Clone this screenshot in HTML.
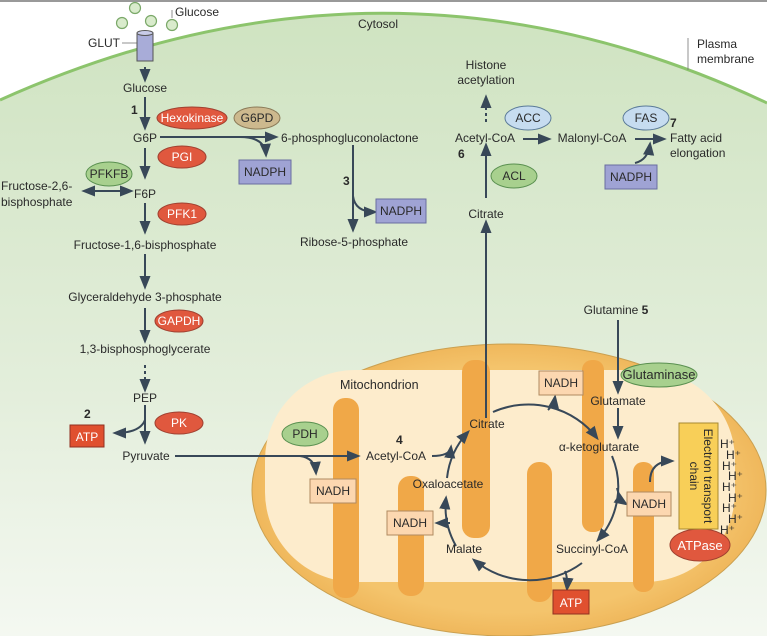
<!DOCTYPE html>
<html><head><meta charset="utf-8"><style>
html,body{margin:0;padding:0;background:#fff}
svg{display:block}
text{font-family:"Liberation Sans",sans-serif;font-size:12px;fill:#2a2a2a}
.b{font-weight:bold}
</style></head><body>
<svg width="767" height="636" viewBox="0 0 767 636" xmlns="http://www.w3.org/2000/svg">
<defs>
<linearGradient id="cg" x1="0" y1="0" x2="0" y2="1">
<stop offset="0" stop-color="#cfe3c1"/><stop offset="0.6" stop-color="#e3eedb"/><stop offset="1" stop-color="#f4f8f1"/></linearGradient>
<radialGradient id="mg" cx="0.5" cy="0.5" r="0.6"><stop offset="0.7" stop-color="#f4c46c"/><stop offset="1" stop-color="#eaa848"/></radialGradient>
<marker id="a" viewBox="0 0 10 10" refX="8" refY="5" markerWidth="7" markerHeight="7" orient="auto-start-reverse"><path d="M0,1 L10,5 L0,9 z" fill="#384858"/></marker>
</defs>
<rect x="0" y="0" width="767" height="2" fill="#999"/>
<path d="M0,100 Q390,-75 767,103 L767,636 L0,636 z" fill="url(#cg)"/>
<path d="M0,100 Q390,-75 767,103" fill="none" stroke="#8cc46c" stroke-width="3"/>
<ellipse cx="509" cy="490" rx="257" ry="146" fill="url(#mg)" stroke="#caa050" stroke-width="1"/>
<rect x="265" y="370" width="470" height="212" rx="90" ry="90" fill="#fdeccc"/>
<g fill="#f0a848">
<rect x="333" y="398" width="26" height="200" rx="12"/>
<rect x="398" y="476" width="26" height="120" rx="12"/>
<rect x="527" y="462" width="25" height="140" rx="12"/>
<rect x="633" y="462" width="21" height="130" rx="10"/>
<rect x="462" y="360" width="28" height="178" rx="12"/>
<rect x="582" y="360" width="22" height="172" rx="10"/>
</g>
<g fill="#d9ebcc" stroke="#7aa868" stroke-width="1.2">
<circle cx="135" cy="8" r="5.5"/><circle cx="122" cy="23" r="5.5"/><circle cx="151" cy="21" r="5.5"/><circle cx="172" cy="25" r="5.5"/></g>
<path d="M172,18 V10" stroke="#777" stroke-width="0.8"/>
<text x="175" y="16">Glucose</text>
<text x="88" y="47">GLUT</text><path d="M122,43 H137" stroke="#777" stroke-width="0.8"/>
<rect x="137" y="33" width="16" height="28" fill="#a8acd8" stroke="#555"/><ellipse cx="145" cy="33" rx="8" ry="2.5" fill="#c8cbe8" stroke="#555"/>
<text x="358" y="28">Cytosol</text>
<path d="M688,38 V70" stroke="#777" stroke-width="0.8"/>
<text x="697" y="48">Plasma</text><text x="697" y="63">membrane</text>
<g stroke="#384858" stroke-width="2" fill="none" marker-end="url(#a)">
<path d="M145,67 V80"/>
<path d="M145,97 V128"/>
<path d="M145,148 V177"/>
<path d="M145,203 V232"/>
<path d="M145,254 V287"/>
<path d="M145,308 V341"/>
<path d="M145,365 V390" stroke-dasharray="3,3"/>
<path d="M145,405 V442"/>
<path d="M145,420 Q140,433 115,433"/>
<path d="M160,137 H276"/>
<path d="M240,137 Q265,137 266,155"/>
<path d="M353,145 V230"/>
<path d="M353,196 Q355,212 375,212"/>
<path d="M175,456 H358"/>
<path d="M300,456 Q315,458 316,473"/>
<path d="M486,418 V222"/>
<path d="M486,198 V145"/>
<path d="M486,122 V97" stroke-dasharray="3,3"/>
<path d="M523,139 H549"/>
<path d="M635,139 H664"/>
<path d="M635,163 Q648,160 650,144"/>
<path d="M618,320 V392"/>
<path d="M618,408 V437"/>
<path d="M493,412 A85,82 0 0,1 597,438"/>
<path d="M548,410 Q554,404 555,397"/>
<path d="M612,456 A85,82 0 0,1 598,540"/>
<path d="M617,488 Q620,500 626,504"/>
<path d="M582,563 A85,82 0 0,1 474,560"/>
<path d="M565,571 Q568,578 567,589"/>
<path d="M456,546 A85,82 0 0,1 446,498"/>
<path d="M450,523 Q446,523 437,523"/>
<path d="M447,478 A85,82 0 0,1 468,432"/>
<path d="M432,456 Q450,456 451,447"/>
<path d="M650,482 Q650,461 672,461"/>
<path d="M84,191 H131" marker-start="url(#a)"/>
</g>
<g stroke="#a04030" stroke-width="1">
<ellipse cx="192" cy="118" rx="35" ry="11" fill="#e0583e"/>
<ellipse cx="182" cy="157" rx="24" ry="11" fill="#e0583e"/>
<ellipse cx="182" cy="214" rx="24" ry="11" fill="#e0583e"/>
<ellipse cx="179" cy="321" rx="24" ry="11" fill="#e0583e"/>
<ellipse cx="179" cy="423" rx="24" ry="11" fill="#e0583e"/>
<ellipse cx="700" cy="545" rx="30" ry="16" fill="#e0583e"/>
</g>
<ellipse cx="257" cy="118" rx="23" ry="11" fill="#cdb98e" stroke="#8a7a58"/>
<g fill="#a8d08e" stroke="#5a9050">
<ellipse cx="109" cy="174" rx="23" ry="12"/>
<ellipse cx="305" cy="434" rx="23" ry="12"/>
<ellipse cx="659" cy="375" rx="38" ry="12"/>
<ellipse cx="514" cy="176" rx="23" ry="12"/>
</g>
<g fill="#c6dcf0" stroke="#5a7a98">
<ellipse cx="528" cy="118" rx="23" ry="12"/>
<ellipse cx="646" cy="118" rx="23" ry="12"/>
</g>
<text x="192" y="122" text-anchor="middle" style="fill:#fff">Hexokinase</text>
<text x="182" y="161" text-anchor="middle" style="fill:#fff">PGI</text>
<text x="182" y="218" text-anchor="middle" style="fill:#fff">PFK1</text>
<text x="179" y="325" text-anchor="middle" style="fill:#fff">GAPDH</text>
<text x="179" y="427" text-anchor="middle" style="fill:#fff">PK</text>
<text x="700" y="550" text-anchor="middle" style="fill:#fff;font-size:13px">ATPase</text>
<text x="257" y="122" text-anchor="middle">G6PD</text>
<text x="109" y="178" text-anchor="middle">PFKFB</text>
<text x="305" y="438" text-anchor="middle">PDH</text>
<text x="659" y="379" text-anchor="middle" style="font-size:13px">Glutaminase</text>
<text x="514" y="180" text-anchor="middle">ACL</text>
<text x="528" y="122" text-anchor="middle">ACC</text>
<text x="646" y="122" text-anchor="middle">FAS</text>
<g fill="#9fa3d4" stroke="#6a6ea0">
<rect x="239" y="160" width="52" height="24"/>
<rect x="376" y="199" width="50" height="24"/>
<rect x="605" y="165" width="52" height="24"/>
</g>
<text x="265" y="176" text-anchor="middle">NADPH</text>
<text x="401" y="215" text-anchor="middle">NADPH</text>
<text x="631" y="181" text-anchor="middle">NADPH</text>
<g fill="#fcd7b0" stroke="#b08a60">
<rect x="310" y="479" width="46" height="24"/>
<rect x="387" y="511" width="46" height="24"/>
<rect x="539" y="371" width="44" height="24"/>
<rect x="627" y="492" width="44" height="24"/>
</g>
<text x="333" y="495" text-anchor="middle">NADH</text>
<text x="410" y="527" text-anchor="middle">NADH</text>
<text x="561" y="387" text-anchor="middle">NADH</text>
<text x="649" y="508" text-anchor="middle">NADH</text>
<g fill="#e0502f" stroke="#903020">
<rect x="70" y="425" width="34" height="22"/>
<rect x="553" y="590" width="36" height="24"/>
</g>
<text x="87" y="441" text-anchor="middle" style="fill:#fff">ATP</text>
<text x="571" y="607" text-anchor="middle" style="fill:#fff">ATP</text>
<rect x="679" y="423" width="39" height="106" fill="#f8cf58" stroke="#a88a30"/>
<text transform="translate(704,476) rotate(90)" text-anchor="middle" font-size="12">Electron transport</text>
<text transform="translate(690,476) rotate(90)" text-anchor="middle" font-size="12">chain</text>
<g font-size="12"><text x="720" y="448">H⁺</text><text x="726" y="459">H⁺</text><text x="722" y="470">H⁺</text><text x="728" y="480">H⁺</text><text x="722" y="491">H⁺</text><text x="728" y="502">H⁺</text><text x="722" y="512">H⁺</text><text x="728" y="523">H⁺</text><text x="720" y="534">H⁺</text></g>
<text x="145" y="92" text-anchor="middle">Glucose</text>
<text x="131" y="114" class="b">1</text>
<text x="145" y="142" text-anchor="middle">G6P</text>
<text x="145" y="198" text-anchor="middle">F6P</text>
<text x="1" y="190">Fructose-2,6-</text>
<text x="1" y="206">bisphosphate</text>
<text x="145" y="249" text-anchor="middle">Fructose-1,6-bisphosphate</text>
<text x="145" y="301" text-anchor="middle">Glyceraldehyde 3-phosphate</text>
<text x="145" y="353" text-anchor="middle">1,3-bisphosphoglycerate</text>
<text x="145" y="402" text-anchor="middle">PEP</text>
<text x="84" y="418" class="b">2</text>
<text x="146" y="460" text-anchor="middle">Pyruvate</text>
<text x="281" y="142">6-phosphogluconolactone</text>
<text x="343" y="185" class="b">3</text>
<text x="354" y="246" text-anchor="middle">Ribose-5-phosphate</text>
<text x="486" y="69" text-anchor="middle">Histone</text>
<text x="486" y="84" text-anchor="middle">acetylation</text>
<text x="485" y="142" text-anchor="middle">Acetyl-CoA</text>
<text x="458" y="158" class="b">6</text>
<text x="592" y="142" text-anchor="middle">Malonyl-CoA</text>
<text x="670" y="127" class="b">7</text>
<text x="670" y="142">Fatty acid</text>
<text x="670" y="157">elongation</text>
<text x="486" y="218" text-anchor="middle">Citrate</text>
<text x="616" y="314" text-anchor="middle">Glutamine <tspan class="b">5</tspan></text>
<text x="340" y="389" style="font-size:12.5px">Mitochondrion</text>
<text x="396" y="444" class="b">4</text>
<text x="396" y="460" text-anchor="middle">Acetyl-CoA</text>
<text x="487" y="428" text-anchor="middle">Citrate</text>
<text x="618" y="405" text-anchor="middle">Glutamate</text>
<text x="599" y="451" text-anchor="middle">α-ketoglutarate</text>
<text x="448" y="488" text-anchor="middle">Oxaloacetate</text>
<text x="464" y="553" text-anchor="middle">Malate</text>
<text x="592" y="553" text-anchor="middle">Succinyl-CoA</text>
</svg>
</body></html>
